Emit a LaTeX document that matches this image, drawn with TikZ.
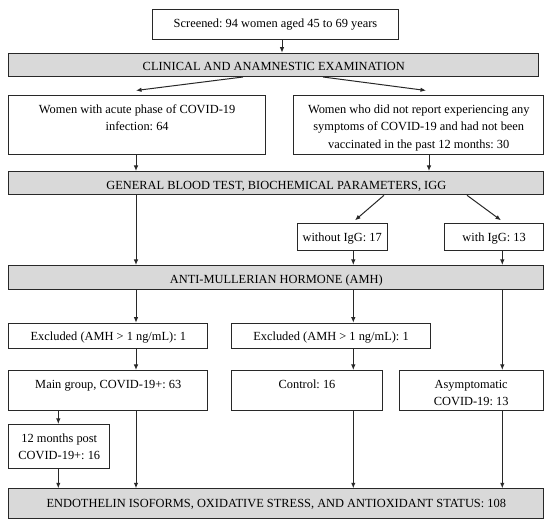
\documentclass[tikz,border=0pt]{standalone}
\usepackage{fontspec}
\setmainfont{Liberation Serif}
\frenchspacing
\usetikzlibrary{arrows.meta,calc}
\definecolor{barfill}{RGB}{217,217,217}
\definecolor{lncol}{RGB}{40,40,40}
\newcommand{\bxt}[3]{\parbox[c][#2pt][t]{#1pt}{\fontsize{12.4}{17.8}\selectfont\frenchspacing\rule{0pt}{17.7pt}#3}}
\newcommand{\bl}[1]{\makebox[\linewidth]{#1}}
\tikzset{
  box/.style={draw=lncol, line width=1pt, fill=white, inner sep=0pt, anchor=north west},
  bar/.style={box, fill=barfill},
  arr/.style={draw=lncol, line width=1pt, -{Latex[length=5.5pt,width=4.5pt]}}
}
\begin{document}
\begin{tikzpicture}[x=1pt,y=-1pt]
\useasboundingbox (0,0) rectangle (550,526);
% nodes
\node[box] (scr) at (152,9.3) {\bxt{246}{29.7}{\bl{Screened: 94 women aged 45 to 69 years}}};
\node[bar] (clin) at (8.3,52.7) {\bxt{530}{23.3}{\bl{CLINICAL AND ANAMNESTIC EXAMINATION}}};
\node[box] (womA) at (8.3,95) {\bxt{256.7}{59.3}{\bl{Women with acute phase of COVID-19}\\\bl{infection: 64}}};
\node[box] (womB) at (293.3,95) {\bxt{250}{59.3}{\bl{Women who did not report experiencing any}\\\bl{symptoms of COVID-19 and had not been}\\\bl{vaccinated in the past 12 months: 30}}};
\node[bar] (gen) at (8.3,171) {\bxt{535}{23.3}{\bl{GENERAL BLOOD TEST, BIOCHEMICAL PARAMETERS, IGG}}};
\node[box] (wo) at (296.7,223.3) {\bxt{90}{26.7}{\bl{without IgG: 17}}};
\node[box] (wi) at (444,223.3) {\bxt{99.3}{26.7}{\bl{with IgG: 13}}};
\node[bar] (amh) at (8.3,265) {\bxt{535}{24.3}{\rule{0pt}{18.3pt}\bl{ANTI-MULLERIAN HORMONE (AMH)}}};
\node[box] (exA) at (8.3,322.7) {\bxt{199}{25.6}{\bl{Excluded (AMH > 1 ng/mL): 1}}};
\node[box] (exB) at (231,322.7) {\bxt{199}{25.6}{\bl{Excluded (AMH > 1 ng/mL): 1}}};
\node[box] (main) at (8.3,370) {\bxt{199}{40}{\bl{Main group, COVID-19+: 63}}};
\node[box] (ctrl) at (231,370) {\bxt{151}{40}{\bl{Control: 16}}};
\node[box] (asym) at (398.7,370) {\bxt{144}{40}{\bl{Asymptomatic}\\\bl{COVID-19: 13}}};
\node[box] (mon) at (8.3,424) {\bxt{101}{44.3}{\bl{12 months post}\\\bl{COVID-19+: 16}}};
\node[bar] (endo) at (8.3,488.3) {\bxt{535}{29.4}{\rule{0pt}{18.4pt}\bl{ENDOTHELIN ISOFORMS, OXIDATIVE STRESS, AND ANTIOXIDANT STATUS: 108}}};
% columns
\coordinate (xs) at (282,0);
\coordinate (x0) at (58.3,0);
\coordinate (x1) at (136,0);
\coordinate (x2) at (429,0);
\coordinate (x3) at (353.3,0);
\coordinate (x4) at (502.3,0);
\coordinate (dA) at (243,0);
\coordinate (dB) at (323,0);
\coordinate (dC) at (384,0);
\coordinate (dD) at (467,0);
\coordinate (eB) at (426,0);
% connectors
\draw[arr] (scr.south -| xs) -- (clin.north -| xs);
\draw[arr] (clin.south -| dA) -- ($(womA.north -| x1)+(0,-4.5)$);
\draw[arr] (clin.south -| dB) -- ($(womB.north -| eB)+(0,-4.5)$);
\draw[arr] (womA.south -| x1) -- (gen.north -| x1);
\draw[arr] (womB.south -| x2) -- (gen.north -| x2);
\draw[arr] (gen.south -| x1) -- (amh.north -| x1);
\draw[arr] (gen.south -| dC) -- ($(wo.north -| 355,0)+(0,-3)$);
\draw[arr] (gen.south -| dD) -- ($(wi.north -| 501,0)+(0,-3)$);
\draw[arr] (wo.south -| x3) -- (amh.north -| x3);
\draw[arr] (wi.south -| x4) -- (amh.north -| x4);
\draw[arr] (amh.south -| x1) -- (exA.north -| x1);
\draw[arr] (amh.south -| x3) -- (exB.north -| x3);
\draw[arr] (amh.south -| x4) -- (asym.north -| x4);
\draw[arr] (exA.south -| x1) -- (main.north -| x1);
\draw[arr] (exB.south -| x3) -- (ctrl.north -| x3);
\draw[arr] (main.south -| x0) -- (mon.north -| x0);
\draw[arr] (main.south -| x1) -- (endo.north -| x1);
\draw[arr] (mon.south -| x0) -- (endo.north -| x0);
\draw[arr] (ctrl.south -| x3) -- (endo.north -| x3);
\draw[arr] (asym.south -| x4) -- (endo.north -| x4);
\end{tikzpicture}
\end{document}
